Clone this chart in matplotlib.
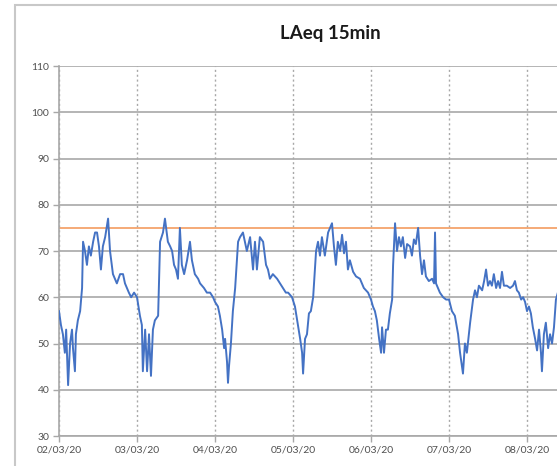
import matplotlib
matplotlib.use("Agg")
import matplotlib.pyplot as plt
from matplotlib.patches import Rectangle
import numpy as np

# hours since 02/03/20 00:00 and LAeq 15min level (dB)
hours = [0.0, 0.6, 1.2, 1.8, 2.2, 2.8, 3.4, 4.0, 4.3, 4.9, 5.2, 5.8, 6.5, 7.1, 7.4,
         8.0, 8.6, 9.2, 9.8, 10.5, 11.1, 11.7, 12.3, 12.9, 13.5, 14.2, 15.1, 15.7,
         16.6, 17.2, 17.8, 18.8, 19.7, 20.3, 20.9, 21.5, 22.2, 23.1, 24.0,
         24.9, 25.5, 25.8, 26.5, 27.1, 27.7, 28.3, 28.9, 29.5, 30.5, 31.1, 32.0,
         32.6, 33.5, 34.2, 34.8, 35.4, 36.0, 36.6, 37.2, 37.8, 38.5, 39.4, 40.3,
         40.9, 41.8, 42.8, 43.4, 44.6, 45.5, 46.5, 47.4, 48.0,
         48.9, 49.5, 50.2, 50.8, 51.1, 51.7, 52.0, 52.3, 52.9, 53.5, 54.2, 55.1,
         55.7, 56.6, 57.2, 57.8, 58.8, 59.7, 60.3, 60.9, 61.8, 62.8, 63.7, 64.3,
         64.9, 65.8, 67.1, 68.0, 68.9, 69.8, 70.5, 71.7,
         72.6, 73.5, 74.2, 74.8, 75.1, 75.7, 76.3, 76.9, 77.5, 78.2, 79.1, 79.7,
         80.3, 80.9, 81.8, 82.8, 83.4, 84.0, 84.6, 85.2, 85.8, 86.5, 87.1, 87.7,
         88.3, 88.9, 89.5, 90.5, 91.4, 92.6, 93.8, 95.1, 96.0,
         96.6, 97.2, 97.8, 98.5, 99.1, 99.4, 100.0, 100.6, 101.2, 101.8, 102.5,
         102.8, 103.4, 104.0, 104.6, 105.2, 105.8, 106.5, 107.1, 108.0, 108.6,
         109.2, 109.8, 110.5, 111.1, 111.7, 112.3, 112.9, 113.8, 114.8, 115.4,
         115.7, 116.0, 116.3, 117.2, 118.2, 119.1, 120.0,
         120.9, 121.8, 122.8, 123.4, 124.0, 124.3, 124.9, 125.5, 126.5, 127.4,
         128.0, 128.6, 129.2, 130.2, 130.8, 131.4, 132.0, 132.6, 133.2, 133.8,
         134.5, 135.1, 135.7, 136.3, 136.9, 137.8, 138.8, 139.7, 140.3, 140.9,
         141.5, 142.2, 142.8, 143.4, 144.0,
         144.6, 145.2, 145.8, 146.5, 147.1, 147.7, 148.3, 148.6, 149.2, 149.8,
         150.5, 151.1, 151.7, 152.3, 152.9, 153.5]
laeq = [57, 54, 52, 48, 53, 41, 50, 53, 49, 44, 52, 55, 57, 62, 72,
        70, 67, 71, 69, 72, 74, 74, 71, 66, 71, 73, 77, 70,
        65, 64, 63, 65, 65, 63, 62, 61, 60, 61, 60,
        56, 54, 44, 53, 44, 52, 43, 53, 55, 56, 72, 74,
        77, 72, 71, 70, 67, 66, 64, 75, 67, 65, 68, 72,
        68, 65, 64, 63, 62, 61, 61, 60, 59,
        58, 56, 53, 49, 51, 46, 41.5, 45, 50, 57, 62, 72,
        73, 74, 72, 70, 73, 66, 72, 66, 73, 72, 67, 66,
        64, 65, 64, 63, 62, 61, 61, 60,
        58, 54, 51, 48, 43.5, 51, 52, 56.5, 57, 60, 70, 72,
        69, 73, 69, 74, 75, 76, 71, 67, 72, 70, 73.5, 69.5,
        72, 66, 68, 65.5, 64.5, 64, 62, 61, 59.5,
        58, 57, 55, 51, 48, 53.5, 48, 53, 53, 56.5, 59.5,
        67, 76, 70, 73, 71, 73, 68.5, 71.5, 71, 69,
        72.5, 71.5, 75, 69, 65, 68, 64.5, 63.5, 64, 63,
        74, 63, 62.5, 61, 60, 59.5, 59.5,
        57, 56, 52, 48, 45, 43.5, 50, 48, 54.5, 59.5,
        61.5, 60, 62.5, 61.5, 63.5, 66, 62.5, 63.5, 62.5, 65,
        62, 63.5, 62, 65.5, 62.5, 62.5, 62, 62.5, 63.5, 61.5,
        61, 59.5, 60, 59, 57,
        58, 56.5, 53.5, 51, 48.5, 53, 48, 44, 52, 54.5,
        49, 52, 50, 53.5, 59.5, 61]
limit = 75
day_labels = ["02/03/20", "03/03/20", "04/03/20", "05/03/20",
              "06/03/20", "07/03/20", "08/03/20"]
yticks = [30, 40, 50, 60, 70, 80, 90, 100, 110]

plt.rcParams['font.family'] = ['Lato', 'DejaVu Sans']

fig = plt.figure(figsize=(5.57, 4.66), dpi=100)
# chart border (the chart is cut off on the right in the original)
fig.patches.append(Rectangle((15 / 557, -0.05), 1.2, 1 - 5 / 466 + 0.05,
                             transform=fig.transFigure, fill=False,
                             edgecolor='#c8c8c8', linewidth=1.5))

ax = fig.add_axes([59 / 557, 30 / 466, 546 / 557, 370 / 466])
days = np.array(hours) / 24.0
ax.plot(days, laeq, color='#4472C4', linewidth=1.4, zorder=3)
ax.axhline(limit, color='#F4A46C', linewidth=1.3, zorder=2)

ax.set_xlim(0, 7)
ax.set_ylim(30, 110)
ax.set_yticks(yticks)
ax.set_xticks(range(len(day_labels)))
ax.set_xticklabels(day_labels)

ax.grid(axis='y', color='#a8a8a8', linewidth=1.2, linestyle='-')
ax.grid(axis='x', color='#a8a8a8', linewidth=1.0, linestyle=(0, (1.5, 2)))
ax.set_axisbelow(True)
for s in ['top', 'right']:
    ax.spines[s].set_visible(False)
for s in ['left', 'bottom']:
    ax.spines[s].set_color('#a8a8a8')
    ax.spines[s].set_linewidth(1.2)
ax.tick_params(colors='#a8a8a8', length=4, width=1.0, labelsize=7.5,
               labelcolor='#505050', pad=3)

fig.text(330 / 557, 1 - 33 / 466, 'LAeq 15min', ha='center', va='center',
         fontsize=13.5, fontweight='bold', color='#1a1a1a')

fig.savefig('out.png', dpi=100)
